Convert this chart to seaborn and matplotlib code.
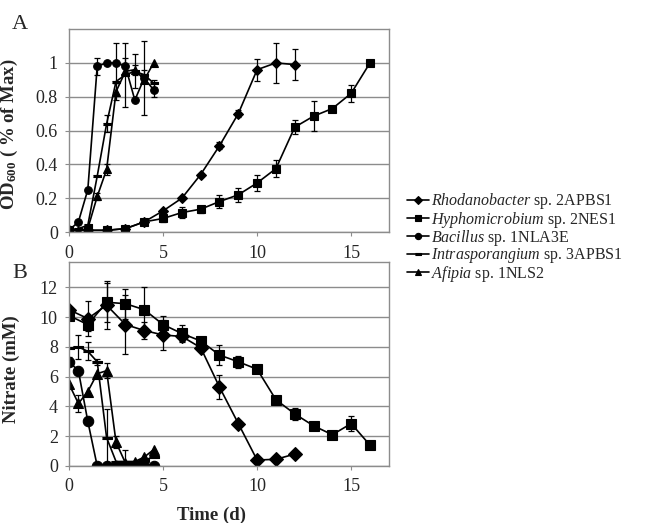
import numpy as np
import pandas as pd
import matplotlib
matplotlib.use("Agg")
import matplotlib.pyplot as plt
import seaborn as sns

# --- data ---
STRAINS = ["Rhodanobacter", "Hyphomicrobium", "Bacillus", "Intrasporangium", "Afipia"]
LABELS = [
    r"$\mathit{Rhodanobacter}$ sp. 2APBS1",
    r"$\mathit{Hyphomicrobium}$ sp. 2NES1",
    r"$\mathit{Bacillus}$ sp. 1NLA3E",
    r"$\mathit{Intrasporangium}$ sp. 3APBS1",
    r"$\mathit{Afipia}$ sp. 1NLS2",
]

# slow growers, sampled daily
t_rhodo = [0, 1, 2, 3, 4, 5, 6, 7, 8, 9, 10, 11, 12]
t_hypho = [0, 1, 2, 3, 4, 5, 6, 7, 8, 9, 10, 11, 12, 13, 14, 15, 16]
# fast growers, sampled every half day
t_fast = [0, 0.5, 1, 1.5, 2, 2.5, 3, 3.5, 4, 4.5]

# panel A: OD600 (fraction of max)
od_rhodo = [0.01, 0.01, 0.01, 0.02, 0.06, 0.125, 0.2, 0.34, 0.51, 0.70, 0.96, 1.0, 0.99]
od_rhodo_err = [0, 0, 0, 0, 0, 0, 0, 0, 0.02, 0.02, 0.065, 0.12, 0.09]
od_hypho = [0.01, 0.01, 0.01, 0.02, 0.06, 0.08, 0.115, 0.135, 0.18, 0.22, 0.29, 0.375,
            0.62, 0.685, 0.73, 0.82, 1.0]
od_hypho_err = [0, 0, 0, 0, 0, 0.02, 0.03, 0.02, 0.04, 0.04, 0.05, 0.05, 0.04, 0.09, 0, 0.05, 0.01]
od_bac = [0.01, 0.06, 0.25, 0.98, 1.0, 1.0, 0.98, 0.78, 0.91, 0.84]
od_bac_err = [0, 0, 0, 0.05, 0, 0.12, 0.05, 0, 0.22, 0.04]
od_intra = [0.01, 0.02, 0.04, 0.33, 0.64, 0.89, 0.93, 0.95, 0.93, 0.88]
od_intra_err = [0, 0, 0, 0, 0.05, 0, 0.19, 0.1, 0.03, 0.02]
od_afi = [0.01, 0.01, 0.02, 0.21, 0.37, 0.83, 0.95, 0.96, 0.90, 1.0]
od_afi_err = [0, 0, 0, 0.02, 0.03, 0.05, 0, 0.03, 0, 0]

# panel B: nitrate (mM)
no3_rhodo = [10.5, 9.9, 10.8, 9.5, 9.1, 8.8, 8.7, 7.95, 5.3, 2.85, 0.4, 0.45, 0.8]
no3_rhodo_err = [0.2, 1.2, 1.6, 2.0, 0.6, 1.0, 0.3, 0, 0.8, 0, 0, 0, 0]
no3_hypho = [10.1, 9.5, 11.0, 10.9, 10.5, 9.5, 8.9, 8.4, 7.45, 7.0, 6.5, 4.45, 3.5,
             2.7, 2.1, 2.85, 1.4]
no3_hypho_err = [0, 0.4, 1.3, 1.0, 1.5, 0.6, 0.6, 0, 0.7, 0.4, 0, 0, 0.4, 0, 0, 0.5, 0]
no3_bac = [7.0, 6.4, 3.0, 0, 0, 0, 0, 0, 0, 0]
no3_bac_err = [0.3, 0, 0, 0, 0, 0, 0, 0, 0, 0]
no3_intra = [7.9, 8.0, 7.7, 7.0, 1.9, 0.3, 0.3, 0.3, 0.4, 0.6]
no3_intra_err = [0, 0.8, 0.6, 0.2, 1.9, 0, 0.8, 0, 0, 0]
no3_afi = [5.5, 4.2, 5.0, 6.2, 6.4, 1.6, 0.2, 0.3, 0.6, 1.1]
no3_afi_err = [0, 0.6, 0, 0, 0.5, 0.4, 0, 0, 0, 0]

# flat bar marker (filled, so seaborn accepts it next to the other filled markers)
DASH = [(-1, -0.18), (1, -0.18), (1, 0.18), (-1, 0.18)]
MARKERS = {"Rhodanobacter": "D", "Hyphomicrobium": "s", "Bacillus": "o",
           "Intrasporangium": DASH, "Afipia": "^"}


def make_frame(series):
    rows = []
    for strain, t, v, e in series:
        for ti, vi, ei in zip(t, v, e):
            rows.append({"time": ti, "value": vi, "err": ei, "strain": strain})
    return pd.DataFrame(rows)


df_a = make_frame([
    ("Rhodanobacter", t_rhodo, od_rhodo, od_rhodo_err),
    ("Hyphomicrobium", t_hypho, od_hypho, od_hypho_err),
    ("Bacillus", t_fast, od_bac, od_bac_err),
    ("Intrasporangium", t_fast, od_intra, od_intra_err),
    ("Afipia", t_fast, od_afi, od_afi_err),
])
df_b = make_frame([
    ("Rhodanobacter", t_rhodo, no3_rhodo, no3_rhodo_err),
    ("Hyphomicrobium", t_hypho, no3_hypho, no3_hypho_err),
    ("Bacillus", t_fast, no3_bac, no3_bac_err),
    ("Intrasporangium", t_fast, no3_intra, no3_intra_err),
    ("Afipia", t_fast, no3_afi, no3_afi_err),
])

# --- style ---
sns.set_theme(style="white")
plt.rcParams["font.family"] = ["Liberation Serif", "DejaVu Serif"]
plt.rcParams["mathtext.fontset"] = "custom"
plt.rcParams["mathtext.rm"] = "Liberation Serif"
plt.rcParams["mathtext.it"] = "Liberation Serif:italic"
plt.rcParams["mathtext.bf"] = "Liberation Serif:bold"

GRID = "#8c8c8c"

fig = plt.figure(figsize=(6.54, 5.23), dpi=100)
ax_a = fig.add_axes([0.1055, 0.5564, 0.489, 0.388])
ax_b = fig.add_axes([0.1055, 0.109, 0.489, 0.390])


def draw_panel(ax, df, msize):
    sns.lineplot(data=df, x="time", y="value", style="strain", style_order=STRAINS,
                 markers=MARKERS, dashes=False, color="black", linewidth=1.2,
                 markersize=msize, markeredgewidth=0.8, markeredgecolor="black",
                 sort=False, estimator=None, ax=ax)
    for strain in STRAINS:
        sub = df[(df["strain"] == strain) & (df["err"] > 0)]
        ax.errorbar(sub["time"], sub["value"], yerr=sub["err"], fmt="none",
                    ecolor="black", elinewidth=0.9, capsize=2.5, capthick=0.9)
    ax.set_xlim(0, 17)
    ax.set_xticks([0, 5, 10, 15])
    ax.yaxis.grid(True, color=GRID, linewidth=1.0)
    ax.xaxis.grid(False)
    for sp in ax.spines.values():
        sp.set_color(GRID)
        sp.set_linewidth(1.0)
    ax.tick_params(axis="both", which="major", labelsize=13, length=3, width=0.8,
                   color=GRID, direction="out", bottom=True, left=True)
    ax.tick_params(axis="x", pad=6)
    ax.tick_params(axis="y", pad=5)


draw_panel(ax_a, df_a, 5.5)
draw_panel(ax_b, df_b, 7.5)

ax_a.set_ylim(0, 1.2)
ax_a.set_yticks([0, 0.2, 0.4, 0.6, 0.8, 1.0])
ax_a.set_yticklabels(["0", "0.2", "0.4", "0.6", "0.8", "1"])
ax_a.set_xlabel("")
ax_a.set_ylabel(r"OD$_\mathbf{600}$ ( % of Max)", fontsize=13.5, fontweight="bold")
ax_a.yaxis.set_label_coords(-0.153, 0.48)

ax_b.set_ylim(0, 13.7)
ax_b.set_yticks([0, 2, 4, 6, 8, 10, 12])
ax_b.set_xlabel("Time (d)", fontsize=13.5, fontweight="bold")
ax_b.xaxis.set_label_coords(0.447, -0.2)
ax_b.set_ylabel("Nitrate (mM)", fontsize=13.5, fontweight="bold")
ax_b.yaxis.set_label_coords(-0.153, 0.475)

handles, _ = ax_a.get_legend_handles_labels()
ax_a.get_legend().remove()
ax_b.get_legend().remove()
handles = handles[-5:]
for h in handles:
    h.set_markersize(4.5)
    h.set_linewidth(1.2)
fig.legend(handles, LABELS, loc="center left", bbox_to_anchor=(0.622, 0.546),
           frameon=False, fontsize=11.5, handlelength=1.4, handletextpad=0.1,
           labelspacing=-0.1, borderaxespad=0, borderpad=0)

fig.text(12 / 654, 1 - 29 / 523, "A", fontsize=16, va="baseline")
fig.text(12 / 654, 1 - 278 / 523, "B", fontsize=16, va="baseline")

fig.savefig("out.png", dpi=100)
